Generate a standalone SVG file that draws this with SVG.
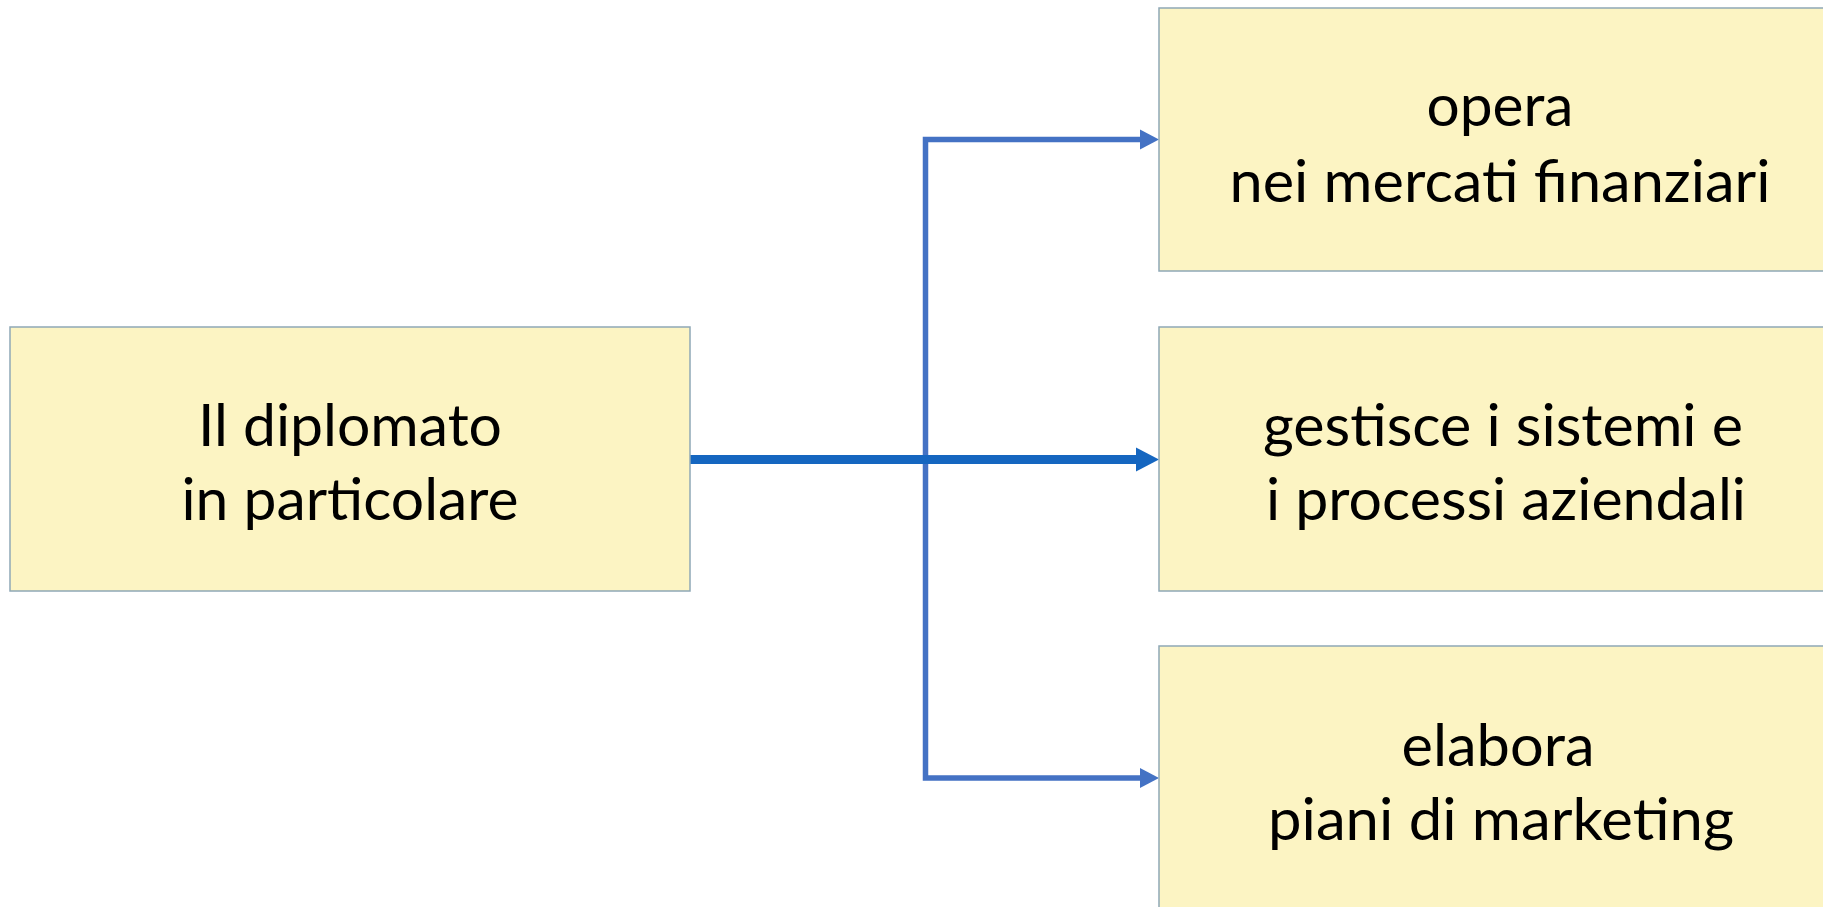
<svg xmlns="http://www.w3.org/2000/svg" width="1823" height="907" viewBox="0 0 1823 907">
  <style>
    .box { fill: #FCF4C3; stroke: #8FA8B6; stroke-width: 1.5; }
    .t { font-family: Lato, "Open Sans", "Liberation Sans", sans-serif; font-size: 59px; fill: #000; text-anchor: middle; }
    .br { fill: none; stroke: #4472C4; stroke-width: 5.5; stroke-linejoin: miter; }
    .main { fill: none; stroke: #1566C0; stroke-width: 9; }
  </style>
  <defs>
    <marker id="ah" markerUnits="userSpaceOnUse" markerWidth="19" markerHeight="20" refX="3" refY="10" orient="auto" overflow="visible">
      <path d="M0,0 L19,10 L0,20 Z" fill="#4472C4"/>
    </marker>
    <marker id="ahm" markerUnits="userSpaceOnUse" markerWidth="23" markerHeight="24" refX="4" refY="12" orient="auto" overflow="visible">
      <path d="M0,0 L23,12 L0,24 Z" fill="#1566C0"/>
    </marker>
  </defs>
  <rect width="1823" height="907" fill="#FFFFFF"/>

  <g id="connectors">
    <path class="br" d="M925.5,459 V139.5 H1143" marker-end="url(#ah)"/>
    <path class="br" d="M925.5,459 V778 H1143" marker-end="url(#ah)"/>
    <path class="main" d="M690,459.5 H1140" marker-end="url(#ahm)"/>
  </g>

  <g id="node-diplomato">
    <rect class="box" x="10" y="327" width="680" height="264"/>
    <text class="t" x="350" y="446" textLength="304" lengthAdjust="spacingAndGlyphs">Il diplomato</text>
    <text class="t" x="350" y="520" textLength="337" lengthAdjust="spacingAndGlyphs">in particolare</text>
  </g>

  <g id="node-opera">
    <rect class="box" x="1159" y="8" width="682" height="263"/>
    <text class="t" x="1500" y="126" textLength="147" lengthAdjust="spacingAndGlyphs">opera</text>
    <text class="t" x="1500" y="202" textLength="541" lengthAdjust="spacingAndGlyphs">nei mercati finanziari</text>
  </g>

  <g id="node-gestisce">
    <rect class="box" x="1159" y="327" width="682" height="264"/>
    <text class="t" x="1503" y="446" textLength="480" lengthAdjust="spacingAndGlyphs">gestisce i sistemi e</text>
    <text class="t" x="1506" y="520" textLength="480" lengthAdjust="spacingAndGlyphs">i processi aziendali</text>
  </g>

  <g id="node-elabora">
    <rect class="box" x="1159" y="646" width="682" height="270"/>
    <text class="t" x="1498" y="766" textLength="193" lengthAdjust="spacingAndGlyphs">elabora</text>
    <text class="t" x="1501" y="840" textLength="466" lengthAdjust="spacingAndGlyphs">piani di marketing</text>
  </g>
</svg>
